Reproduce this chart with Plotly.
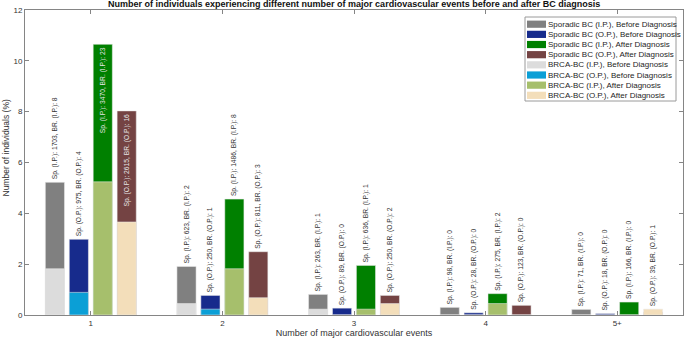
import plotly.graph_objects as go

# ---------------- data ----------------
categories = ["1", "2", "3", "4", "5+"]
cat_pos = [1, 2, 3, 4, 5]

# counts shown in the bar labels
sp_ip_before_n = [1703, 623, 263, 98, 71]
br_ip_before_n = [8, 2, 1, 0, 0]
sp_op_before_n = [975, 250, 89, 28, 18]
br_op_before_n = [4, 1, 0, 0, 0]
sp_ip_after_n = [3470, 1486, 636, 275, 166]
br_ip_after_n = [23, 8, 1, 2, 0]
sp_op_after_n = [2615, 811, 250, 123, 39]
br_op_after_n = [16, 3, 2, 0, 1]

# bar heights (% of individuals)
sp_ip_before = [5.22, 1.91, 0.81, 0.30, 0.22]
br_ip_before = [1.82, 0.45, 0.23, 0.0, 0.0]
sp_op_before = [2.98, 0.77, 0.27, 0.086, 0.055]
br_op_before = [0.89, 0.23, 0.0, 0.0, 0.0]
sp_ip_after = [10.65, 4.56, 1.95, 0.84, 0.51]
br_ip_after = [5.24, 1.82, 0.23, 0.45, 0.0]
sp_op_after = [8.03, 2.49, 0.77, 0.38, 0.12]
br_op_after = [3.66, 0.68, 0.45, 0.0, 0.23]

series = [
    # (sp name, br name, sp vals, br vals, sp n, br n, tag, sp color, br color)
    ("Sporadic BC (I.P.), Before Diagnosis", "BRCA-BC (I.P.), Before Diagnosis",
     sp_ip_before, br_ip_before, sp_ip_before_n, br_ip_before_n, "I.P.", "#808080", "#dcdcdc"),
    ("Sporadic BC (O.P.), Before Diagnosis", "BRCA-BC (O.P.), Before Diagnosis",
     sp_op_before, br_op_before, sp_op_before_n, br_op_before_n, "O.P.", "#172b8c", "#0b9fd6"),
    ("Sporadic BC (I.P.), After Diagnosis", "BRCA-BC (I.P.), After Diagnosis",
     sp_ip_after, br_ip_after, sp_ip_after_n, br_ip_after_n, "I.P.", "#008000", "#a6bf6c"),
    ("Sporadic BC (O.P.), After Diagnosis", "BRCA-BC (O.P.), After Diagnosis",
     sp_op_after, br_op_after, sp_op_after_n, br_op_after_n, "O.P.", "#744343", "#f3deba"),
]

# grouped-bar geometry (4 bars per group)
group_width = 4 / 5.5
slot = group_width / 4
bar_w = slot * 0.8
offsets = [(i - 1.5) * slot for i in range(4)]

FONT = "Liberation Sans, Arial, sans-serif"
txt_dark = "#333333"
txt_light = "#e6e6e6"

W, H = 685, 342
ML, MR, MT, MB = 25, 2, 10, 27

fig = go.Figure()

sp_traces = []
br_traces = []
for k, (spn, brn, spv, brv, spc, brc, tag, col_sp, col_br) in enumerate(series):
    xs = [c + offsets[k] for c in cat_pos]
    labels = [f"Sp. ({tag}): {a}, BR. ({tag}): {b}" for a, b in zip(spc, brc)]
    sp_text = [lab if s >= b else "" for lab, s, b in zip(labels, spv, brv)]
    br_text = [lab if b > s else "" for lab, s, b in zip(labels, spv, brv)]
    sp_pos = ["inside" if s > 7 else "outside" for s in spv]
    sp_col = [txt_light if s > 7 else txt_dark for s in spv]
    sp_traces.append(go.Bar(
        x=xs, y=spv, width=bar_w, name=spn, showlegend=False,
        marker=dict(color=col_sp, line=dict(color="rgba(235,235,235,0.9)", width=0.6)),
        text=sp_text, textposition=sp_pos, textangle=-90,
        insidetextanchor="end", constraintext="none", cliponaxis=False,
        textfont=dict(family=FONT, size=6.7, color=sp_col),
        hoverinfo="skip",
    ))
    br_traces.append(go.Bar(
        x=xs, y=brv, width=bar_w, name=brn, showlegend=False,
        marker=dict(color=col_br, line=dict(color="rgba(235,235,235,0.9)", width=0.6)),
        text=br_text, textposition="outside", textangle=-90,
        constraintext="none", cliponaxis=False,
        textfont=dict(family=FONT, size=6.7, color=txt_dark),
        hoverinfo="skip",
    ))

for t in sp_traces + br_traces:
    fig.add_trace(t)

# ---- pixel -> paper helpers ----
pw, ph = W - ML - MR, H - MT - MB
def px(xp):
    return (xp - ML) / pw
def py(yp):
    return (H - MB - yp) / ph

# ---- legend box (drawn in the corner, MATLAB style) ----
legend_entries = [(s[0], s[7]) for s in series] + [(s[1], s[8]) for s in series]
box_l, box_r, box_t, box_b = 525, 676, 17, 101
fig.add_shape(type="rect", xref="paper", yref="paper",
              x0=px(box_l), x1=px(box_r), y0=py(box_b), y1=py(box_t),
              line=dict(color="#9a9a9a", width=1), fillcolor="rgba(255,255,255,1)",
              layer="above")
row0, row_h = 24.2, 10.16
for i, (name, col) in enumerate(legend_entries):
    yc = row0 + i * row_h
    fig.add_shape(type="rect", xref="paper", yref="paper",
                  x0=px(527), x1=px(546), y0=py(yc + 3.6), y1=py(yc - 3.6),
                  line=dict(width=0), fillcolor=col, layer="above")
    fig.add_annotation(xref="paper", yref="paper", x=px(545.5), y=py(yc),
                       xanchor="left", yanchor="middle", showarrow=False,
                       text=name, font=dict(family=FONT, size=8, color="#1e1e1e"))

# ---- y-axis label (placed like the original, slightly above centre) ----
fig.add_annotation(xref="paper", yref="paper", x=px(5.5), y=py(148),
                   xanchor="center", yanchor="middle", showarrow=False,
                   textangle=-90, text="Number of individuals (%)",
                   font=dict(family=FONT, size=8.5, color="#333333"))

axis_col = "#858585"
fig.update_layout(
    width=W, height=H,
    margin=dict(l=ML, r=MR, t=MT, b=MB),
    barmode="overlay",
    showlegend=False,
    plot_bgcolor="white", paper_bgcolor="white",
    font=dict(family=FONT, size=8, color="#333333"),
    title=dict(
        text="<b>Number of individuals experiencing different number of major cardiovascular events before and after BC diagnosis</b>",
        x=0.517, xanchor="center", y=0.997, yanchor="top",
        font=dict(family=FONT, size=9, color="#111111"),
    ),
    xaxis=dict(
        range=[0.5, 5.5], tickvals=cat_pos, ticktext=categories,
        ticks="inside", ticklen=4, tickcolor=axis_col,
        showline=True, linecolor=axis_col, linewidth=1, mirror="ticks",
        showgrid=False, zeroline=False,
        tickfont=dict(size=8, color="#333333"),
        title=dict(text="Number of major cardiovascular events", standoff=2,
                   font=dict(size=9, color="#333333")),
    ),
    yaxis=dict(
        range=[0, 12], tickvals=[0, 2, 4, 6, 8, 10, 12],
        ticks="inside", ticklen=4, tickcolor=axis_col,
        showline=True, linecolor=axis_col, linewidth=1, mirror="ticks",
        showgrid=False, zeroline=False,
        tickfont=dict(size=8, color="#333333"),
    ),
)

fig.write_html("out.html", config={"displayModeBar": False},
               post_script="document.body.style.margin='0px';")
